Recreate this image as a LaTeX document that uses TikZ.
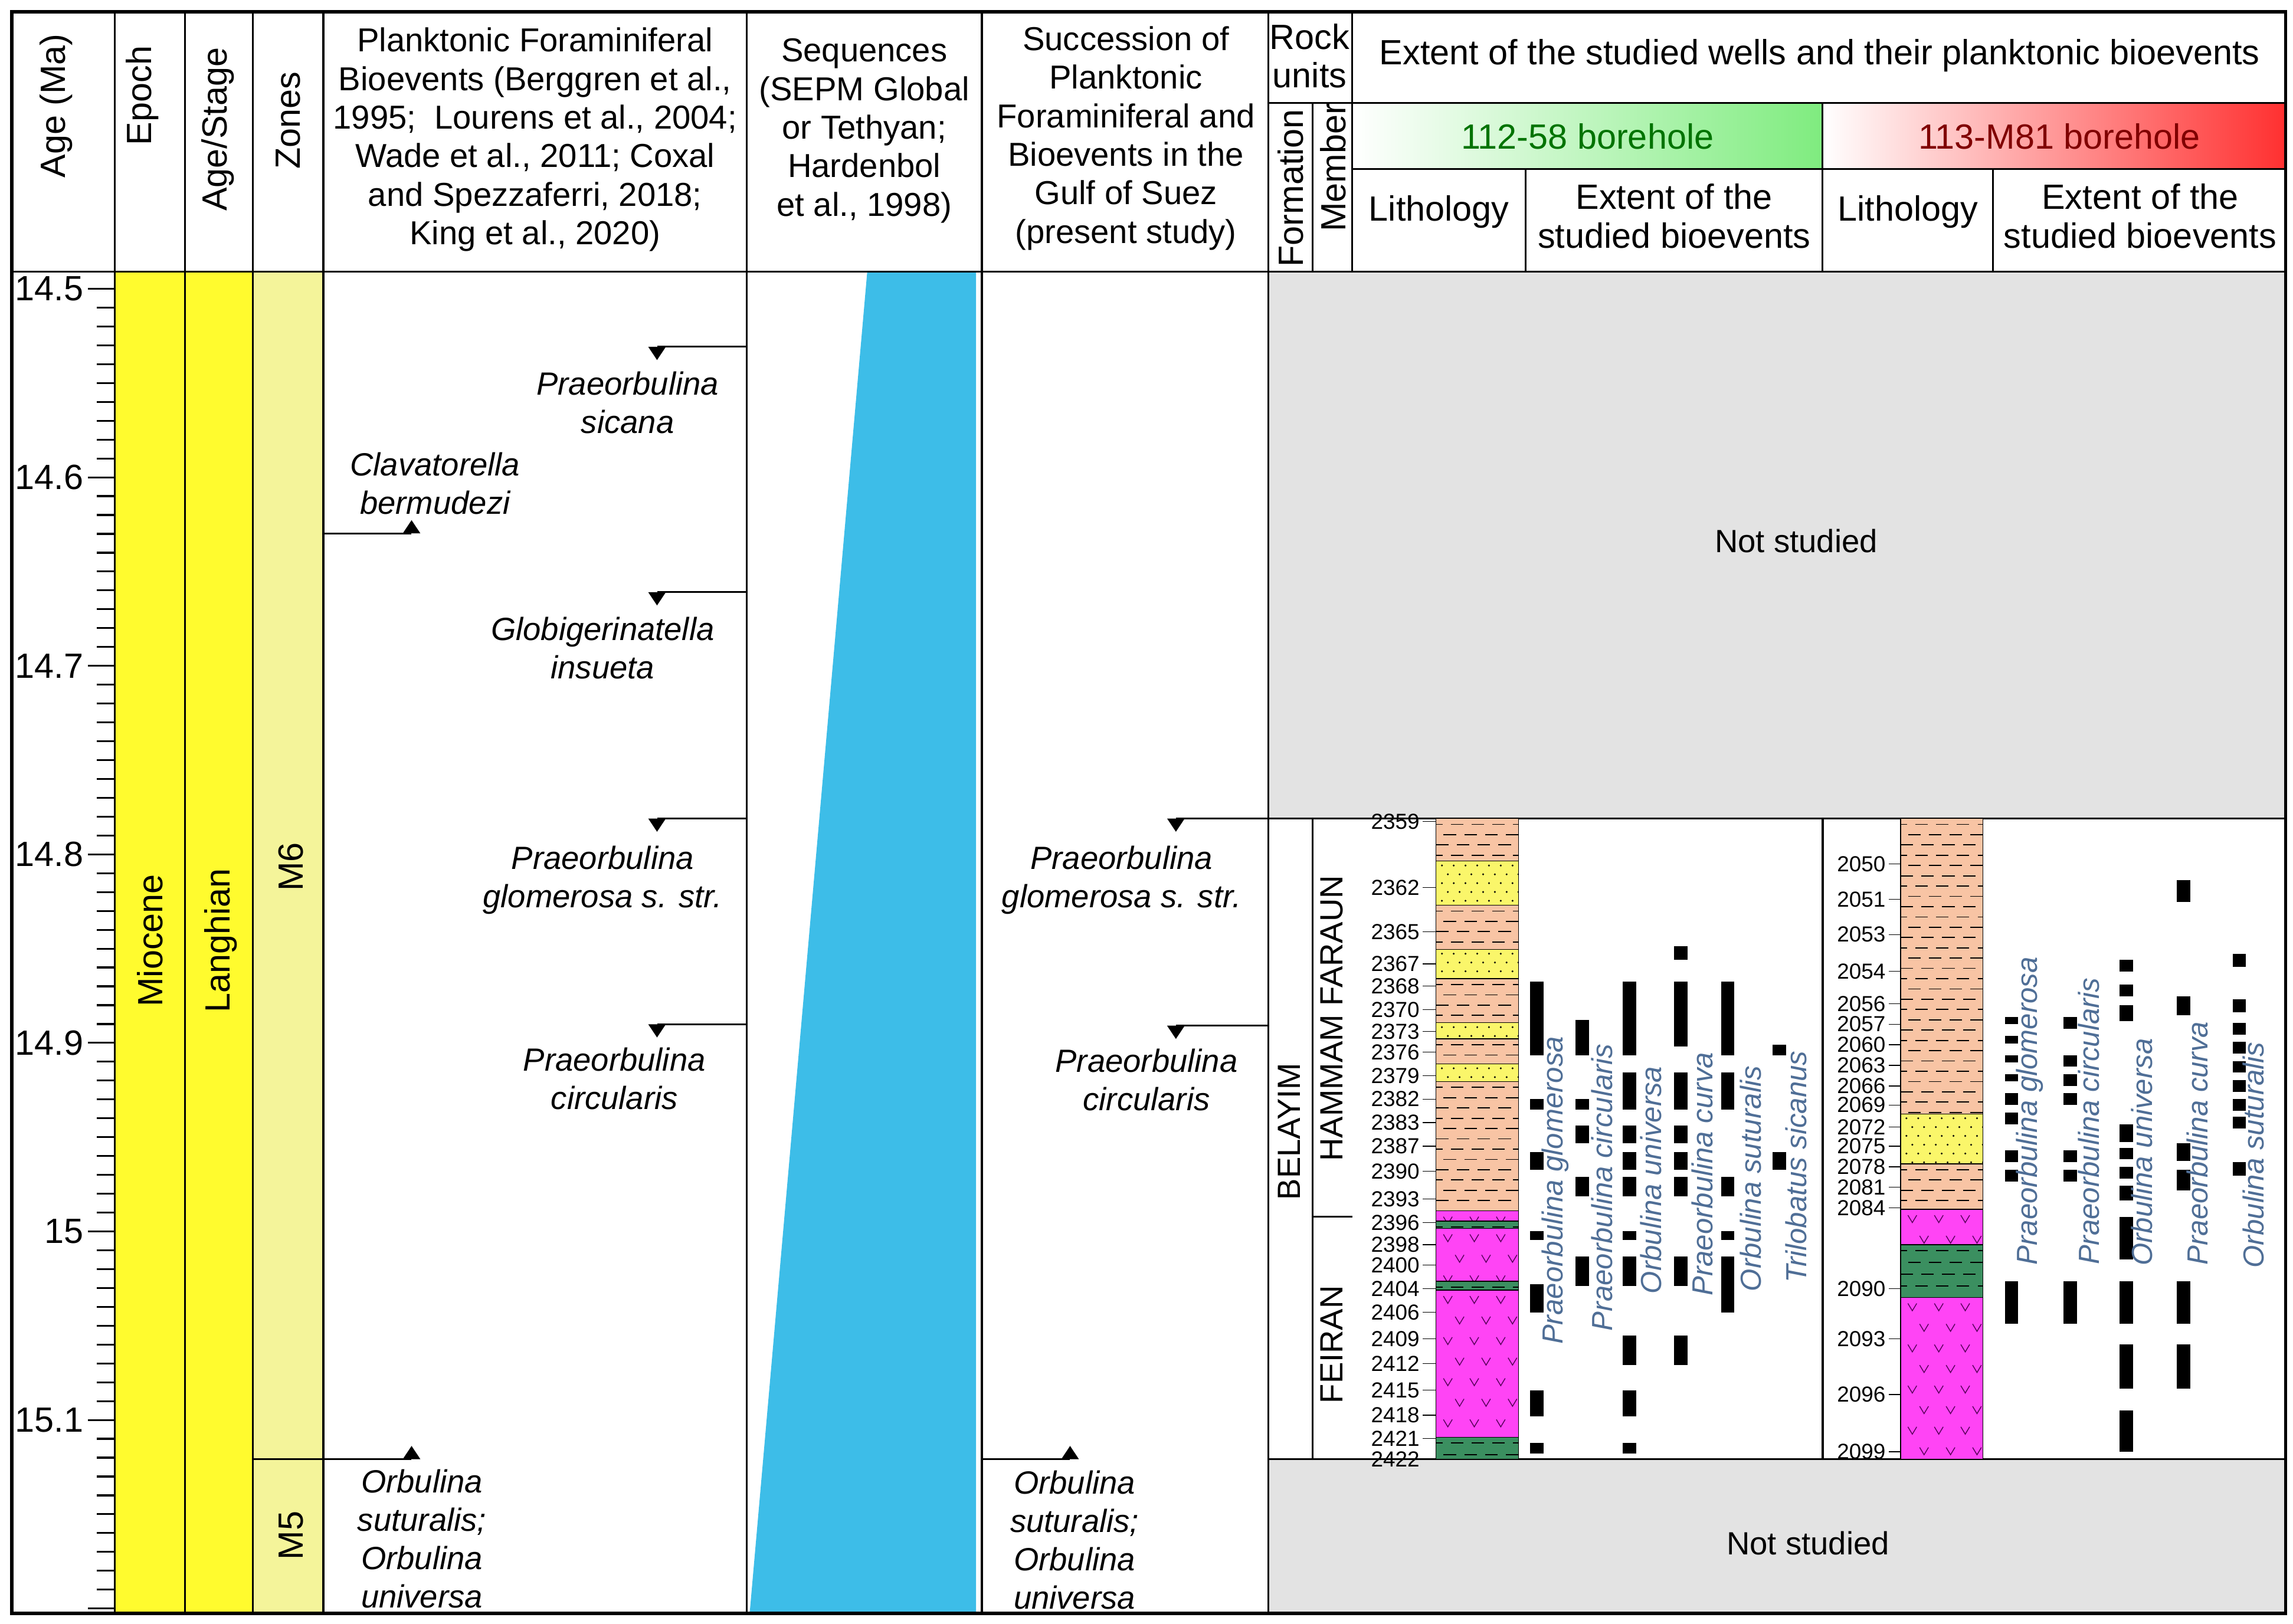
\documentclass[tikz,border=0pt]{standalone}
\usepackage{fontspec}
\setmainfont{Liberation Sans}
\definecolor{epochyel}{HTML}{FFFB2E}
\definecolor{zoneyel}{HTML}{F4F49A}
\definecolor{seqblue}{HTML}{3DBDE8}
\definecolor{notgrey}{HTML}{E3E3E3}
\definecolor{shalecol}{HTML}{F8C4A4}
\definecolor{sandcol}{HTML}{FAF66A}
\definecolor{volccol}{HTML}{FF44F5}
\definecolor{greencol}{HTML}{3B8F60}
\definecolor{spcol}{HTML}{4F6E96}
\definecolor{wellgreen}{HTML}{7FEC7F}
\definecolor{wellred}{HTML}{FF3030}

\tikzset{
  hdr/.style={font=\fontsize{15.5}{18.5}\selectfont, align=center, inner sep=0pt},
  hdrbig/.style={font=\fontsize{16.9}{18.6}\selectfont, align=center, inner sep=0pt},
  hdrcol/.style={font=\fontsize{16}{18.6}\selectfont, align=center, inner sep=0pt},
  bio/.style={font=\fontsize{15.5}{18.5}\selectfont\itshape, align=center, inner sep=0pt},
  spc/.style={font=\fontsize{14}{16}\selectfont\itshape, text=spcol, rotate=90, inner sep=0pt},
  dep/.style={font=\fontsize{10.5}{11}\selectfont, anchor=east, inner sep=0pt},
  frame/.style={line width=1.6pt},
  rule/.style={line width=0.9pt},
  dashes/.style={line width=0.5pt, dash pattern=on 6pt off 4pt},
}

% lithology layers: {x}{top}{bottom}
\newcommand\shl[3]{%
  \fill[shalecol] (#1,#2) rectangle (#1+56,#3);
  \begin{scope}\clip (#1,#2) rectangle (#1+56,#3);
    \foreach \k in {0,...,30}\draw[dashes] ({#1-4-mod(\k,3)*5},{#2+4+\k*7}) -- ++(80,0);
  \end{scope}
  \draw[thin] (#1,#2) rectangle (#1+56,#3);}
\newcommand\snd[3]{%
  \fill[sandcol] (#1,#2) rectangle (#1+56,#3);
  \begin{scope}\clip (#1,#2) rectangle (#1+56,#3);
    \foreach \k in {0,...,6}\foreach \j in {0,...,6}
      \fill ({#1+4+\j*8+mod(\k,2)*4},{#2+3+\k*6}) circle (0.7);
  \end{scope}
  \draw[thin] (#1,#2) rectangle (#1+56,#3);}
\newcommand\vlc[3]{%
  \fill[volccol] (#1,#2) rectangle (#1+56,#3);
  \begin{scope}\clip (#1,#2) rectangle (#1+56,#3);
    \foreach \k in {0,...,8}\foreach \j in {0,...,3}
      \draw[violet!70!black, thin] ({#1+8+\j*18+mod(\k,2)*8-3},{#2+4+\k*14}) -- ++(3,5) -- ++(3,-5);
  \end{scope}
  \draw[thin] (#1,#2) rectangle (#1+56,#3);}
\newcommand\grn[3]{%
  \fill[greencol] (#1,#2) rectangle (#1+56,#3);
  \begin{scope}\clip (#1,#2) rectangle (#1+56,#3);
    \foreach \k in {0,...,6}\draw[dashes] ({#1-4-mod(\k,3)*5},{#2+4+\k*8}) -- ++(80,0);
  \end{scope}
  \draw[thin] (#1,#2) rectangle (#1+56,#3);}
% bioevent markers: {x}{y}
\newcommand\dnmark[2]{\fill (#1-6,#2) -- (#1+6,#2) -- (#1,#2+9) -- cycle;}
\newcommand\upmark[2]{\fill (#1-6,#2) -- (#1+6,#2) -- (#1,#2-9) -- cycle;}
% range bars: {x}{list of top/bottom}
\newcommand\bars[2]{\foreach \a/\b in {#2}\fill (#1,\a) rectangle (#1+9,\b);}

\begin{document}
\begin{tikzpicture}[x=0.02491cm, y=-0.02491cm]
  \useasboundingbox (0,0) rectangle (1560,1105);
  % colour columns
  \fill[epochyel] (78,185) rectangle (172,1098);
  \fill[zoneyel] (172,185) rectangle (220,1098);
  \fill[seqblue] (590,185) -- (664,185) -- (664,1098) -- (510,1098) -- cycle;
  \fill[notgrey] (863,185) rectangle (1555,557);
  \fill[notgrey] (863,993) rectangle (1555,1098);
  \shade[left color=white, right color=wellgreen] (920,70) rectangle (1240,115);
  \shade[left color=white, right color=wellred] (1240,70) rectangle (1555,115);

  % grid
  \foreach \xx in {78,126,172,220,508,668,863}\draw[rule] (\xx,8) -- (\xx,1098);
  \draw[rule] (8,185) -- (1555,185);
  \draw[rule] (920,8) -- (920,185);
  \draw[rule] (863,70) -- (1555,70);
  \draw[rule] (920,115) -- (1555,115);
  \draw[rule] (893,70) -- (893,185);
  \draw[rule] (1240,70) -- (1240,185);
  \draw[rule] (1038,115) -- (1038,185);
  \draw[rule] (1356,115) -- (1356,185);
  \draw[rule] (172,993) -- (220,993);
  \draw[rule] (863,557) -- (1555,557);
  \draw[rule] (863,993) -- (1555,993);
  \draw[rule] (893,557) -- (893,993);
  \draw[rule] (893,828) -- (920,828);
  \draw[line width=1.3pt] (1240,557) -- (1240,993);

  % age axis
  \foreach \k in {0,...,70}{
    \pgfmathsetmacro\yy{196.5+\k*12.83}
    \pgfmathparse{mod(\k,10)==0 ? 1 : 0}
    \ifnum\pgfmathresult=1 \draw[rule] (60,\yy) -- (78,\yy);
    \else \draw[rule] (66,\yy) -- (78,\yy);\fi}
  \foreach \lab [count=\i from 0] in {14.5,14.6,14.7,14.8,14.9,15,15.1}
    \node[hdrbig, anchor=east] (age\i) at (57,196.5+\i*128.3) {\lab};

  % headers
  \node[hdrbig, rotate=90] (hage) at (38,72) {Age (Ma)};
  \node[hdrbig, rotate=90] (hepoch) at (97,65) {Epoch};
  \node[hdrbig, rotate=90] (hstage) at (148,88) {Age/Stage};
  \node[hdrbig, rotate=90] (hzone) at (196,82) {Zones};
  \node[hdrcol] (hplank) at (364,95) {Planktonic Foraminiferal\\Bioevents (Berggren et al.,\\1995;\ \ Lourens et al., 2004;\\Wade et al., 2011; Coxal\\and Spezzaferri, 2018;\\King et al., 2020)};
  \node[hdrcol] (hseq) at (588,89) {Sequences\\(SEPM Global\\or Tethyan;\\Hardenbol\\et al., 1998)};
  \node[hdrcol] (hsucc) at (766,94) {Succession of\\Planktonic\\Foraminiferal and\\Bioevents in the\\Gulf of Suez\\(present study)};
  \node[hdrbig] (hrock) at (891,38) {Rock\\units};
  \node[hdrbig, rotate=90] (hform) at (878,128) {Formation};
  \node[hdrbig, rotate=90] (hmemb) at (907,114) {Member};
  \node[hdrbig] (hextent) at (1238,38) {Extent of the studied wells and their planktonic bioevents};
  \node[hdrbig, text=green!45!black] (hwellA) at (1080,93) {112-58 borehole};
  \node[hdrbig, text=red!50!black] (hwellB) at (1401,93) {113-M81 borehole};
  \node[hdrbig] (hlithA) at (979,144) {Lithology};
  \node[hdrbig] (hbioA) at (1139,147) {Extent of the\\studied bioevents};
  \node[hdrbig] (hlithB) at (1298,144) {Lithology};
  \node[hdrbig] (hbioB) at (1456,147) {Extent of the\\studied bioevents};

  % chronostratigraphy
  \node[hdrbig, rotate=90] (miocene) at (102,640) {Miocene};
  \node[hdrbig, rotate=90] (langhian) at (150,640) {Langhian};
  \node[hdrbig, rotate=90] (zoneMsix) at (198,590) {M6};
  \node[hdrbig, rotate=90] (zoneMfive) at (198,1045) {M5};

  % published bioevents
  \draw[rule] (447,236) -- (508,236); \dnmark{447}{236}
  \draw[rule] (447,403) -- (508,403); \dnmark{447}{403}
  \draw[rule] (447,557) -- (508,557); \dnmark{447}{557}
  \draw[rule] (447,697) -- (508,697); \dnmark{447}{697}
  \draw[rule] (220,363) -- (280,363); \upmark{280}{363}
  \draw[rule] (220,993) -- (280,993); \upmark{280}{993}
  \node[bio] (sicana) at (427,274) {Praeorbulina\\sicana};
  \node[bio] (bermudezi) at (296,329) {Clavatorella\\bermudezi};
  \node[bio] (insueta) at (410,441) {Globigerinatella\\insueta};
  \node[bio] (glomA) at (410,599) {Praeorbulina\\glomerosa s. str.};
  \node[bio] (circA) at (418,734) {Praeorbulina\\circularis};
  \node[bio] (orbA) at (287,1047) {Orbulina\\suturalis;\\Orbulina\\universa};

  % present study bioevents
  \draw[rule] (800,557) -- (863,557); \dnmark{800}{557}
  \draw[rule] (800,698) -- (863,698); \dnmark{800}{698}
  \draw[rule] (668,993) -- (728,993); \upmark{728}{993}
  \node[bio] (glomB) at (763,599) {Praeorbulina\\glomerosa s. str.};
  \node[bio] (circB) at (780,735) {Praeorbulina\\circularis};
  \node[bio] (orbB) at (731,1048) {Orbulina\\suturalis;\\Orbulina\\universa};

  % not studied
  \node[hdr] (nsTop) at (1222,368) {Not studied};
  \node[hdr] (nsBot) at (1230,1050) {Not studied};

  % rock units
  \node[hdr, rotate=90] (belayim) at (877,770) {BELAYIM};
  \node[hdr, rotate=90] (hammam) at (906,693) {HAMMAM FARAUN};
  \node[hdr, rotate=90] (feiran) at (906,915) {FEIRAN};

  % lithology 112-58
  \shl{977}{557}{586} \snd{977}{586}{616} \shl{977}{616}{646}
  \snd{977}{646}{666} \shl{977}{666}{696} \snd{977}{696}{707}
  \shl{977}{707}{724} \snd{977}{724}{736} \shl{977}{736}{824}
  \vlc{977}{824}{831} \grn{977}{831}{836} \vlc{977}{836}{872}
  \grn{977}{872}{878} \vlc{977}{878}{978} \grn{977}{978}{993}
  \foreach \d/\yy in {2359/559,2362/604,2365/634,2367/656,2368/671,2370/687,
      2373/702,2376/716,2379/732,2382/748,2383/764,2387/780,2390/797,2393/816,
      2396/832,2398/847,2400/861,2404/877,2406/893,2409/911,2412/928,2415/946,
      2418/963,2421/979,2422/993}{
    \draw (968,\yy) -- (977,\yy);
    \node[dep] (dA\d) at (966,\yy) {\d};}

  % lithology 113-M81
  \shl{1293}{557}{758} \snd{1293}{758}{792} \shl{1293}{792}{823}
  \vlc{1293}{823}{847} \grn{1293}{847}{883} \vlc{1293}{883}{993}
  \foreach \d/\yy in {2050/588,2051/612,2053/636,2054/661,2056/683,2057/697,
      2060/711,2063/725,2066/739,2069/752,2072/767,2075/780,2078/794,2081/808,
      2084/822,2090/877,2093/911,2096/949,2099/988}{
    \draw (1285,\yy) -- (1293,\yy);
    \node[dep] (dB\d) at (1283,\yy) {\d};}

  % ranges 112-58
  \bars{1041}{668/718,748/755,784/796,838/844,874/893,946/964,982/989}
  \bars{1072}{694/718,748/755,766/778,801/814,855/875}
  \bars{1104}{668/718,730/755,766/778,784/796,801/814,838/844,855/875,909/929,946/964,982/989}
  \bars{1139}{644/653,668/712,730/755,766/778,784/796,801/814,855/875,909/929}
  \bars{1171}{668/718,730/755,801/814,838/844,855/893}
  \bars{1206}{711/718,784/796}
  \node[spc] (spA1) at (1058,810) {Praeorbulina glomerosa};
  \node[spc] (spA2) at (1090,808) {Praeorbulina circularis};
  \node[spc] (spA3) at (1123,803) {Orbulina universa};
  \node[spc] (spA4) at (1158,799) {Praeorbulina curva};
  \node[spc] (spA5) at (1191,802) {Orbulina suturalis};
  \node[spc] (spA6) at (1222,794) {Trilobatus sicanus};

  % ranges 113-M81
  \bars{1364}{692/697,705/710,718/723,731/736,744/752,757/765,783/791,796/804,872/901}
  \bars{1404}{692/700,718/726,731/739,744/752,783/791,796/804,872/901}
  \bars{1442}{653/661,670/678,684/695,765/777,781/789,794/802,807/817,828/857,872/901,915/945,960/988}
  \bars{1481}{599/614,678/691,778/790,796/810,872/901,915/945}
  \bars{1519}{649/658,680/689,696/704,709/717,722/730,735/743,748/756,760/768,791/800}
  \node[spc] (spB1) at (1381,756) {Praeorbulina glomerosa};
  \node[spc] (spB2) at (1421,763) {Praeorbulina circularis};
  \node[spc] (spB3) at (1457,784) {Orbulina universa};
  \node[spc] (spB4) at (1495,778) {Praeorbulina curva};
  \node[spc] (spB5) at (1533,786) {Orbulina suturalis};

  % frame
  \draw[frame] (8,8) rectangle (1555,1098);
\end{tikzpicture}
\end{document}
